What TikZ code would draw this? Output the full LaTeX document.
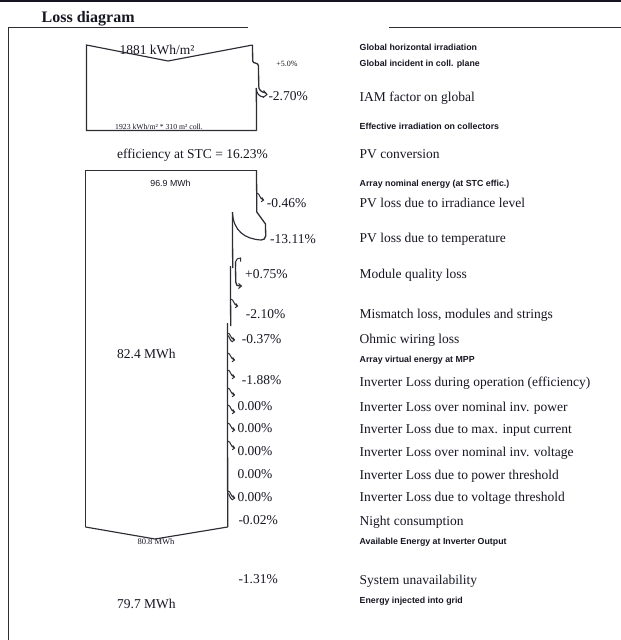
\documentclass[tikz,border=0pt]{standalone}
\usepackage{fontspec}
\setmainfont{Liberation Serif}
\newfontfamily\lsans{Liberation Sans}
\definecolor{ink}{RGB}{22,22,34}
\definecolor{edge}{RGB}{45,45,52}
\newcommand\myLossHook[2]{\draw[hline,shift={(#1,#2)}] (0,-4) .. controls (3.5,-4) and (2.5,2) .. (7,3) (4.5,4.8) -- (7,3) -- (5.2,0.5);}
\newcommand\myLossHookD[2]{\draw[hline,shift={(#1,#2)}] (0,-4) .. controls (3.5,-4) and (2.5,2) .. (7,3) (0,-1.5) .. controls (2,-1.5) and (1.5,3) .. (5,5) (4.5,4.8) -- (7,3) -- (5.2,0.5);}
\begin{document}
\begin{tikzpicture}[x=1pt,y=-1pt,
  txt/.style={inner sep=0pt, text=ink, anchor=base west, font=\fontsize{13.5}{15}\selectfont},
  ctxt/.style={inner sep=0pt, text=ink, anchor=base, font=\fontsize{13.5}{15}\selectfont},
  tag/.style={inner sep=0pt, text=ink, anchor=base west, font=\lsans\bfseries\fontsize{8.8}{10}\selectfont},
  tiny/.style={inner sep=0pt, text=ink, anchor=base},
  flow/.style={draw=edge, line width=1.15pt},
  vflow/.style={draw=edge, line width=1.3pt},
  hline/.style={draw=edge, line width=1pt}
]
\useasboundingbox (0,0) rectangle (621,640);
\fill[ink] (0,0) rectangle (621,1.6);

% frame and title
\node[inner sep=0pt, text=ink, anchor=base west, font=\bfseries\fontsize{16}{18}\selectfont] (title) at (41.5,22.5) {Loss diagram};
\draw[flow] (248,27.5) -- (8.5,27.5) -- (8.5,640);
\draw[flow] (389,27.5) -- (621,27.5);

% left texts
\node[ctxt] (gh) at (157,54) {1881 kWh/m²};
\node[tiny, font=\fontsize{8}{9}\selectfont] (gain) at (287,66) {+5.0\%};
\node[txt] (iam) at (268.3,100.5) {-2.70\%};
\node[tiny, font=\fontsize{7.7}{9}\selectfont] (coll) at (159,129.3) {1923 kWh/m² * 310 m² coll.};
\node[ctxt] (eff) at (192.5,158.3) {efficiency at STC = 16.23\%};
\node[tiny, font=\lsans\fontsize{8.8}{10}\selectfont] (nom) at (170.5,186.5) {96.9 MWh};
\node[txt] (l1) at (266.7,207.5) {-0.46\%};
\node[txt] (l2) at (270,243.3) {-13.11\%};
\node[txt] (l3) at (245,278.3) {+0.75\%};
\node[txt] (l4) at (245.7,318.3) {-2.10\%};
\node[txt] (l5) at (241.7,343.3) {-0.37\%};
\node[txt] (mpp) at (117,358) {82.4 MWh};
\node[txt] (l6) at (241.7,384.5) {-1.88\%};
\node[txt] (l7) at (237.3,410.7) {0.00\%};
\node[txt] (l8) at (237.3,432.9) {0.00\%};
\node[txt] (l9) at (237.3,455.7) {0.00\%};
\node[txt] (l10) at (237.3,478.8) {0.00\%};
\node[txt] (l11) at (237.3,501.7) {0.00\%};
\node[txt] (l12) at (238.3,524.5) {-0.02\%};
\node[tiny, font=\fontsize{8.5}{9}\selectfont] (out) at (156,544.5) {80.8 MWh};
\node[txt] (l13) at (238.3,583.5) {-1.31\%};
\node[txt] (grid) at (117,608.3) {79.7 MWh};

% right labels
\node[tag] (r1) at (359.5,50) {Global horizontal irradiation};
\node[tag] (r2) at (359.5,66) {Global incident in coll. plane};
\node[txt] (r3) at (359.5,101.7) {IAM factor on global};
\node[tag] (r4) at (359.5,129.3) {Effective irradiation on collectors};
\node[txt] (r5) at (359.5,158.3) {PV conversion};
\node[tag] (r6) at (359.5,186.7) {Array nominal energy (at STC effic.)};
\node[txt] (r7) at (359.5,207.7) {PV loss due to irradiance level};
\node[txt] (r8) at (359.5,242.7) {PV loss due to temperature};
\node[txt] (r9) at (359.5,278.3) {Module quality loss};
\node[txt] (r10) at (359.5,318.3) {Mismatch loss, modules and strings};
\node[txt] (r11) at (359.5,343.3) {Ohmic wiring loss};
\node[tag] (r12) at (359.5,362.7) {Array virtual energy at MPP};
\node[txt] (r13) at (359.5,386) {Inverter Loss during operation (efficiency)};
\node[txt] (r14) at (359.5,411) {Inverter Loss over nominal inv. power};
\node[txt] (r15) at (359.5,433.3) {Inverter Loss due to max. input current};
\node[txt] (r16) at (359.5,456) {Inverter Loss over nominal inv. voltage};
\node[txt] (r17) at (359.5,479.3) {Inverter Loss due to power threshold};
\node[txt] (r18) at (359.5,501.7) {Inverter Loss due to voltage threshold};
\node[txt] (r19) at (359.5,525.7) {Night consumption};
\node[tag] (r20) at (359.5,544.3) {Available Energy at Inverter Output};
\node[txt] (r21) at (359.5,584) {System unavailability};
\node[tag] (r22) at (359.5,603.3) {Energy injected into grid};

% top block
\draw[flow] (256.5,130.5) -- (86.5,130.5) -- (86.5,45) -- (168,61) -- (252.5,45);
\draw[vflow] (252.5,45) -- (252.7,61)
  .. controls (252.7,64) and (258.5,62) .. (258.5,66) -- (258.7,86) .. controls (258.7,90) and (261,92) .. (266,93);
\draw[vflow] (256.3,88) -- (256.6,130.5);
\draw[flow] (256.3,88) .. controls (256.3,93) and (259,97) .. (264,97);
\draw[hline] (263.5,90.5) -- (267,94.5) -- (263,97.5);

% array block
\draw[flow] (85.5,527) -- (85.5,170.5) -- (256.5,170.5);
\draw[vflow] (256.5,170.5) -- (256.8,212) -- (265.5,224) -- (265.7,236)
  .. controls (265.7,239) and (263,240) .. (261,240);
\myLossHook{256.6}{197}
\draw[flow] (232.5,212) .. controls (233,231) and (245,239) .. (261,240);
\draw[vflow] (232.4,212) -- (232.7,268);
\draw[hline] (235.5,266) -- (235.5,262) .. controls (235.5,259) and (238.5,258) .. (240.5,258) -- (240.5,261.5);
\draw[vflow] (235.5,262) -- (235.7,282) .. controls (235.7,285) and (237,286) .. (241,286);
\draw[hline] (238.5,283.5) -- (241.5,286) -- (238.5,288.5);
\draw[vflow] (230.4,266) -- (230.7,326);
\draw[vflow] (227.4,323) -- (227.7,527);
\draw[flow] (227.7,527) -- (155,539) -- (85.5,527);
\myLossHook{230.6}{303}
\myLossHookD{227.5}{337}
\myLossHook{227.5}{357}
\myLossHook{227.5}{374}
\myLossHook{227.5}{392}
\myLossHook{227.6}{409}
\myLossHook{227.6}{427}
\myLossHook{227.6}{445}
\myLossHookD{227.7}{495}
\end{tikzpicture}
\end{document}
